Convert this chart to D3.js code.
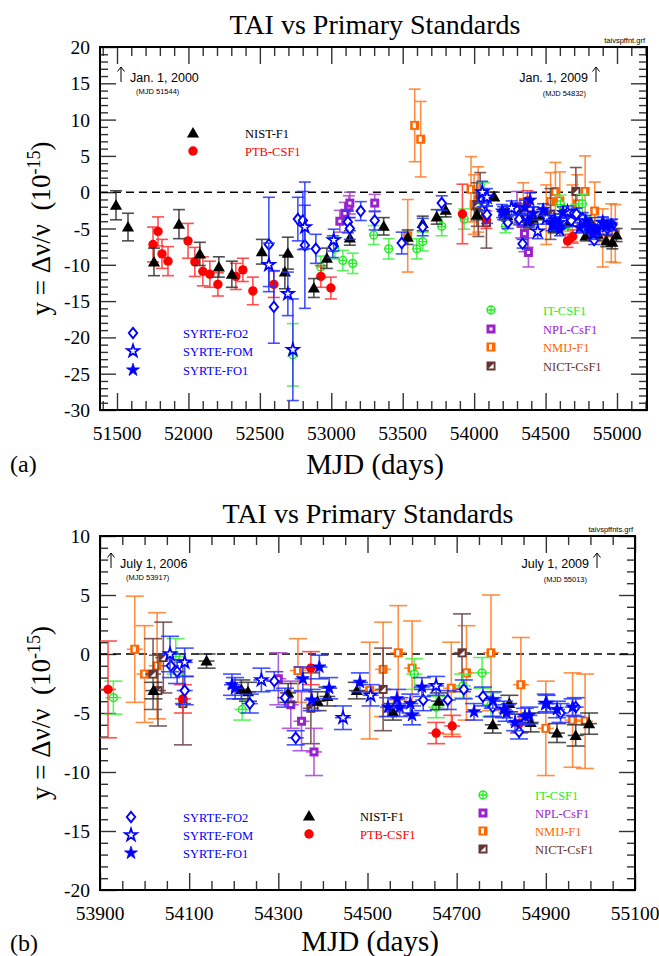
<!DOCTYPE html>
<html><head><meta charset="utf-8">
<script src="https://cdn.jsdelivr.net/npm/d3@7"></script>
<style>
body{margin:0;background:#fff;}
svg{display:block;}
</style></head><body>
<svg id="c" width="659" height="956"></svg>
<script>
// ---------------- DATA: [MJD, y (1e-15), uncertainty] ----------------
const nist = [[51493,-1.8,2.0],[51577,-4.8,1.9],[51759,-9.6,1.9],[51934,-4.4,2.0],[52080,-8.5,1.6],[52213,-10.3,1.4],[52304,-11.3,1.8],[52514,-8.2,1.7],[52675,-11.0,2.3],[52696,-8.4,2.2],[52878,-13.2,1.3],[52969,-9.1,1.4],[53130,-6.3,1.0],[53367,-4.7,1.2],[53535,-6.2,1.0],[53640,-4.3,1.0],[53738,-3.4,1.0],[53801,-2.5,0.9],
  [54020,-3.1,0.7],[54139,-0.6,0.6],[54217,-3.0,0.8],[54232,-3.2,0.8],[54322,-3.3,0.8],[54388,-4.0,0.8],[54410,-3.6,0.8],[54476,-3.1,0.7],[54557,-4.9,0.7],[54660,-4.0,0.7],[54781,-6.0,0.7],[54818,-4.2,0.7],[54866,-5.8,0.8],[54925,-6.7,0.8],[54967,-6.9,0.9],[54997,-5.9,0.9]];
const ptb = [[51752,-7.2,2.4],[51787,-5.4,2.0],[51815,-8.5,2.0],[51857,-9.5,2.0],[51997,-6.7,2.4],[52045,-9.6,2.0],[52101,-10.9,2.0],[52150,-11.3,1.8],[52206,-12.7,1.6],[52332,-11.6,1.8],[52381,-10.7,1.6],[52451,-13.6,1.9],[52598,-12.7,1.8],[52927,-11.6,1.5],[52997,-13.2,1.5],
  [53918,-3.0,4.1],[54086,-3.8,1.2],[54373,-1.2,1.4],[54654,-6.7,0.9],[54690,-6.1,0.9],[54840,-5.9,0.8]];
const fo2 = [[52563,-7.2,6.5],[52598,-15.8,5.0],[52766,-3.7,3.0],[52801,-3.9,4.0],[52815,-7.3,8.7],[52892,-7.8,2.0],[53011,-7.5,1.5],[53116,-4.1,1.5],[53130,-5.0,1.5],[53206,-2.6,1.3],[53304,-3.9,1.3],[53493,-7.0,1.5],[53640,-4.8,1.2],[53773,-1.5,1.0],
  [54059,-1.0,1.0],[54073,-1.5,1.0],[54090,-3.1,1.2],[54236,-4.2,0.8],[54291,-2.3,0.8],[54315,-3.7,0.8],[54339,-7.1,0.6],[54625,-3.9,0.9],[54680,-3.9,0.8],[54716,-3.0,0.8],[54759,-3.6,0.8],[54781,-4.5,0.8],[54840,-6.6,0.6],[54933,-5.0,0.8],[54967,-4.5,0.8]];
const fom = [[52563,-10.0,3.0],[52696,-14.0,3.0],[52731,-21.7,7.0],[52815,-4.8,3.0],[53017,-6.6,1.5],
  [54057,0.0,1.5],[54090,-0.7,1.2],[54262,-2.2,1.0],[54445,-5.4,1.0],[54507,-3.5,0.9],[54654,-2.7,0.8],[54900,-4.2,0.8]];
const fo1 = [[54196,-2.6,0.9],[54203,-2.9,0.9],[54355,-2.1,1.0],[54375,-3.9,0.9],[54392,-1.1,1.0],[54414,-2.9,0.9],[54483,-2.4,0.8],[54546,-4.5,0.8],[54566,-3.8,0.8],[54572,-4.5,0.8],[54596,-4.2,0.8],[54600,-5.2,0.8],[54622,-2.8,0.8],[54739,-4.9,0.7],[54781,-3.9,0.7],[54806,-4.7,0.7],[54812,-5.0,0.7],[54831,-5.8,0.7],[54853,-5.3,0.7],[54863,-5.2,0.7],[54902,-4.2,0.7],[54925,-4.7,0.7],[54960,-4.5,0.7]];
const itcs = [[52731,-22.4,4.3],[52927,-10.3,1.5],[53025,-7.7,1.5],[53081,-9.4,1.4],[53150,-9.8,1.4],[53297,-5.9,1.3],[53402,-7.8,1.4],[53598,-7.8,1.4],[53640,-6.8,1.3],[53773,-4.7,1.3],
  [53930,-3.7,1.4],[54070,-0.2,1.5],[54219,-4.7,0.9],[54605,-1.7,1.3],[54654,-4.5,0.9],[54714,-2.7,1.0],[54757,-1.6,1.3],[54777,-4.3,1.0]];
const npl = [[53060,-4.0,1.5],[53095,-2.9,1.5],[53123,-2.0,1.5],[53130,-1.5,1.5],[53304,-1.5,1.2],
  [54300,-2.1,2.2],[54328,-4.3,2.0],[54352,-5.7,2.5],[54380,-8.3,2.0]];
const nmij = [[53535,-6.0,5.0],[53584,9.2,5.0],[53626,7.3,5.2],
  [53978,0.4,4.5],[54000,-1.7,4.1],[54028,-1.0,4.5],[54344,-1.4,2.7],[54505,-3.1,4.1],[54535,-1.3,4.0],[54569,0.1,4.0],[54600,-1.2,4.0],[54688,-2.9,3.9],[54722,-1.6,4.0],[54777,0.1,4.9],[54844,-2.6,4.0],[54900,-6.3,4.0],[54960,-5.6,4.0],[54988,-5.7,4.0]];
const nict = [[54019,-1.7,3.0],[54030,-3.1,3.0],[54042,-0.3,3.0],[54086,-4.2,3.5],[54373,-4.6,3.0],[54535,-3.0,3.5],[54712,0.1,3.3]];

const seriesNames = ["SYRTE-FO2","SYRTE-FOM","SYRTE-FO1","NIST-F1","PTB-CSF1","IT-CSF1","NPL-CsF1","NMIJ-F1","NICT-CsF1"];
const titleText = "TAI vs Primary Standards";
const topXTicks = [51500,52000,52500,53000,53500,54000,54500,55000];
const topYTicks = [20,15,10,5,0,-5,-10,-15,-20,-25,-30];
const botXTicks = [53900,54100,54300,54500,54700,54900,55100];
const botYTicks = [10,5,0,-5,-10,-15,-20];

// ---------------- STYLE ----------------
const SERIES = [
  {name:"NMIJ-F1",  data:nmij, type:"nmij", color:"#ff6600", err:"#ff7a26"},
  {name:"NICT-CsF1",data:nict, type:"nict", color:"#663333", err:"#6b4040"},
  {name:"IT-CSF1",  data:itcs, type:"it",   color:"#22ee22", err:"#44ee44"},
  {name:"NPL-CsF1", data:npl,  type:"npl",  color:"#9922cc", err:"#a444cc"},
  {name:"PTB-CSF1", data:ptb,  type:"circ", color:"#ff0000", err:"#ff3333"},
  {name:"NIST-F1",  data:nist, type:"tri",  color:"#000000", err:"#333333"},
  {name:"SYRTE-FO2",data:fo2,  type:"diam", color:"#0000ff", err:"#2233ff"},
  {name:"SYRTE-FOM",data:fom,  type:"ostar",color:"#0000ff", err:"#2233ff"},
  {name:"SYRTE-FO1",data:fo1,  type:"fstar",color:"#0000ff", err:"#2233ff"}
];
const byName = Object.fromEntries(SERIES.map(s=>[s.name,s]));
const SERIF = "'Liberation Serif','Times New Roman',serif";
const SANS = "'Liberation Sans',Arial,sans-serif";

const svg = d3.select("#c");

function marker(g, type, color, cx, cy){
  const t = `translate(${cx},${cy})`;
  switch(type){
    case "tri":
      g.append("path").attr("d", d3.symbol(d3.symbolTriangle, 64)()).attr("transform", `translate(${cx},${cy+1})`).attr("fill", color); break;
    case "circ":
      g.append("circle").attr("cx",cx).attr("cy",cy).attr("r",4.7).attr("fill",color); break;
    case "diam":
      g.append("path").attr("d","M0,-5.2L4.2,0L0,5.2L-4.2,0Z").attr("transform",t).attr("fill","#fff").attr("stroke",color).attr("stroke-width",1.9); break;
    case "ostar":
      g.append("path").attr("d", d3.symbol(d3.symbolStar, 46)()).attr("transform",t).attr("fill","#fff").attr("stroke",color).attr("stroke-width",1.7); break;
    case "fstar":
      g.append("path").attr("d", d3.symbol(d3.symbolStar, 52)()).attr("transform",t).attr("fill",color).attr("stroke",color).attr("stroke-width",0.8); break;
    case "it":
      g.append("circle").attr("cx",cx).attr("cy",cy).attr("r",3.9).attr("fill","#fff").attr("stroke",color).attr("stroke-width",1.5);
      g.append("path").attr("d",`M${cx-3.9},${cy}H${cx+3.9}M${cx},${cy-3.9}V${cy+3.9}`).attr("stroke",color).attr("stroke-width",1.3); break;
    case "npl":
      g.append("rect").attr("x",cx-4.5).attr("y",cy-4.5).attr("width",9).attr("height",9).attr("fill",color);
      g.append("rect").attr("x",cx-1.5).attr("y",cy-1.5).attr("width",3).attr("height",3).attr("fill","#fff"); break;
    case "nmij":
      g.append("rect").attr("x",cx-4.5).attr("y",cy-4.5).attr("width",9).attr("height",9).attr("fill",color);
      g.append("rect").attr("x",cx-2).attr("y",cy-2.7).attr("width",3).attr("height",5.4).attr("fill","#fff"); break;
    case "nict":
      g.append("rect").attr("x",cx-4.5).attr("y",cy-4.5).attr("width",9).attr("height",9).attr("fill",color);
      g.append("path").attr("d",`M${cx+2.6},${cy-2.6}L${cx+2.6},${cy+2.6}L${cx-2.6},${cy+2.6}Z`).attr("fill","#fff"); break;
  }
}

function arrow(g, ax, ay){
  // thin upward arrow whose foot sits at (ax, ay)
  g.append("path").attr("d",`M${ax},${ay}V${ay-15}M${ax-3.5},${ay-10.5}L${ax},${ay-15}L${ax+3.5},${ay-10.5}`)
    .attr("fill","none").attr("stroke","#000").attr("stroke-width",1);
}

function panel(cfg){
  const {L,R,T,B,xd,yd,xMajor,xMinor,yMinor,cap,hbar,id} = cfg;
  const x = d3.scaleLinear().domain(xd).range([L,R]);
  const y = d3.scaleLinear().domain(yd).range([B,T]);
  const g = svg.append("g");
  svg.append("defs").append("clipPath").attr("id","clip"+id)
    .append("rect").attr("x",L).attr("y",T).attr("width",R-L).attr("height",B-T);

  // title
  g.append("text").attr("x",cfg.titleX).attr("y",cfg.titleY).attr("text-anchor","middle")
    .attr("font-family",SERIF).attr("font-size",28).text(titleText);
  g.append("text").attr("x",R-2).attr("y",T-4).attr("text-anchor","end")
    .attr("font-family",SANS).attr("font-size",7.5).text(cfg.fileName);

  // minor / major ticks
  const minorX = d3.range(Math.ceil(xd[0]/xMinor)*xMinor, xd[1]+1, xMinor).filter(v=>!xMajor.includes(v));
  const minorY = d3.range(yd[0], yd[1]+0.001, yMinor).filter(v=>v%5!==0);
  const majY = d3.range(yd[0], yd[1]+0.001, 5);
  const tk = "#333";
  const axB = (vals, len) => d3.axisBottom(x).tickValues(vals).tickSize(-len).tickFormat("");
  const axT = (vals, len) => d3.axisTop(x).tickValues(vals).tickSize(-len).tickFormat("");
  const axL = (vals, len) => d3.axisLeft(y).tickValues(vals).tickSize(-len).tickFormat("");
  const axR = (vals, len) => d3.axisRight(y).tickValues(vals).tickSize(-len).tickFormat("");
  const put = (ax, tr) => { const a = g.append("g").attr("transform",tr).call(ax);
    a.select(".domain").remove(); a.selectAll("line").attr("stroke",tk).attr("stroke-width",1.4); };
  put(axB(minorX,9),`translate(0,${B})`); put(axB(xMajor,17),`translate(0,${B})`);
  put(axT(minorX,9),`translate(0,${T})`); put(axT(xMajor,17),`translate(0,${T})`);
  put(axL(minorY,8),`translate(${L},0)`); put(axL(majY,16),`translate(${L},0)`);
  put(axR(minorY,8),`translate(${R},0)`); put(axR(majY,16),`translate(${R},0)`);

  // frame
  g.append("rect").attr("x",L).attr("y",T).attr("width",R-L).attr("height",B-T)
    .attr("fill","none").attr("stroke","#000").attr("stroke-width",2);

  // tick labels
  g.selectAll(null).data(xMajor).join("text").attr("x",d=>x(d)).attr("y",B+30)
    .attr("text-anchor","middle").attr("font-family",SERIF).attr("font-size",19.5).text(d=>d);
  g.selectAll(null).data(cfg.yTicks).join("text").attr("x",L-10).attr("y",d=>y(d)+7)
    .attr("text-anchor","end").attr("font-family",SERIF).attr("font-size",19.5).text(d=>d);

  // axis titles
  g.append("text").attr("x",cfg.xtX).attr("y",cfg.xtY).attr("text-anchor","middle")
    .attr("font-family",SERIF).attr("font-size",29).text("MJD (days)");
  g.append("text").attr("x",10).attr("y",cfg.tagY).attr("font-family",SERIF).attr("font-size",24).text(cfg.tag);
  const yl = g.append("text").attr("transform",`translate(50,${(T+B)/2}) rotate(-90)`)
    .attr("text-anchor","middle").attr("font-family",SERIF).attr("font-size",27);
  yl.append("tspan").text("y = \u0394\u03bd/\u03bd\u00a0\u00a0(10");
  yl.append("tspan").attr("dy",-10).attr("font-size",18).text("-15");
  yl.append("tspan").attr("dy",10).text(")");

  // zero line
  g.append("line").attr("x1",L).attr("x2",R).attr("y1",y(0)).attr("y2",y(0))
    .attr("stroke","#000").attr("stroke-width",1.4).attr("stroke-dasharray","8,5");

  // date annotations
  const an = cfg.ann;
  arrow(g, an.lx+4, an.y);
  g.append("text").attr("x",an.lx+13).attr("y",an.y).attr("font-family",SANS).attr("font-size",12.5).text(an.l);
  g.append("text").attr("x",an.lx+19).attr("y",an.y+12).attr("font-family",SANS).attr("font-size",7.5).text(an.lm);
  arrow(g, an.rx-4, an.y);
  g.append("text").attr("x",an.rx-12).attr("y",an.y).attr("text-anchor","end").attr("font-family",SANS).attr("font-size",12.5).text(an.r);
  g.append("text").attr("x",an.rx-14).attr("y",an.y+14).attr("text-anchor","end").attr("font-family",SANS).attr("font-size",7.5).text(an.rm);

  // data
  const dg = g.append("g").attr("clip-path",`url(#clip${id})`);
  SERIES.forEach(s=>{
    const pts = s.data.filter(d=>d[0]>=xd[0] && d[0]<=xd[1]);
    pts.forEach(d=>{
      const px = x(d[0]), y1 = y(d[1]+d[2]), y2 = y(d[1]-d[2]);
      const e = dg.append("g").attr("stroke",s.err).attr("stroke-width",1.6).attr("stroke-opacity",0.85);
      e.append("line").attr("x1",px).attr("x2",px).attr("y1",y1).attr("y2",y2);
      e.append("line").attr("x1",px-cap).attr("x2",px+cap).attr("y1",y1).attr("y2",y1);
      e.append("line").attr("x1",px-cap).attr("x2",px+cap).attr("y1",y2).attr("y2",y2);
      if(hbar) e.append("line").attr("x1",px-hbar).attr("x2",px+hbar).attr("y1",y(d[1])).attr("y2",y(d[1]));
    });
    pts.forEach(d=> marker(dg, s.type, s.color, x(d[0]), y(d[1])));
  });

  // legends
  cfg.legend.forEach(l=>{
    const s = byName[l.name];
    marker(g, s.type, s.color, l.mx, l.y);
    g.append("text").attr("x",l.tx).attr("y",l.y+4.5).attr("font-family",SERIF).attr("font-size",12.5)
      .attr("fill", s.color).text(s.name);
  });
}

panel({id:"a", L:100, R:647, T:47, B:410, xd:[51381,55210], yd:[-30,20],
  xMajor:topXTicks, xMinor:100, yMinor:1, cap:6, hbar:0, yTicks:topYTicks,
  titleX:375, titleY:34, fileName:"taivspffnt.grf", xtX:375, xtY:474, tag:"(a)", tagY:472,
  ann:{lx:117, rx:600, y:82, l:"Jan. 1, 2000", lm:"(MJD 51544)", r:"Jan. 1, 2009", rm:"(MJD 54832)"},
  legend:[
    {name:"NIST-F1",mx:193,tx:245,y:133},{name:"PTB-CSF1",mx:193,tx:245,y:151},
    {name:"SYRTE-FO2",mx:133,tx:183,y:333},{name:"SYRTE-FOM",mx:133,tx:183,y:351},{name:"SYRTE-FO1",mx:133,tx:183,y:370},
    {name:"IT-CSF1",mx:491,tx:543,y:310},{name:"NPL-CsF1",mx:491,tx:543,y:329},{name:"NMIJ-F1",mx:491,tx:543,y:347},{name:"NICT-CsF1",mx:491,tx:543,y:366}
  ]});

panel({id:"b", L:100, R:635, T:536, B:890, xd:[53900,55100], yd:[-20,10],
  xMajor:botXTicks, xMinor:50, yMinor:1, cap:9, hbar:8, yTicks:botYTicks,
  titleX:368, titleY:523, fileName:"taivspffnts.grf", xtX:370, xtY:951, tag:"(b)", tagY:951,
  ann:{lx:107, rx:601, y:568, l:"July 1, 2006", lm:"(MJD 53917)", r:"July 1, 2009", rm:"(MJD 55013)"},
  legend:[
    {name:"SYRTE-FO2",mx:131,tx:183,y:817},{name:"SYRTE-FOM",mx:131,tx:183,y:835},{name:"SYRTE-FO1",mx:131,tx:183,y:853},
    {name:"NIST-F1",mx:309,tx:360,y:816},{name:"PTB-CSF1",mx:309,tx:360,y:834},
    {name:"IT-CSF1",mx:483,tx:535,y:795},{name:"NPL-CsF1",mx:483,tx:535,y:813},{name:"NMIJ-F1",mx:483,tx:535,y:831},{name:"NICT-CsF1",mx:483,tx:535,y:849}
  ]});
</script>
</body></html>
